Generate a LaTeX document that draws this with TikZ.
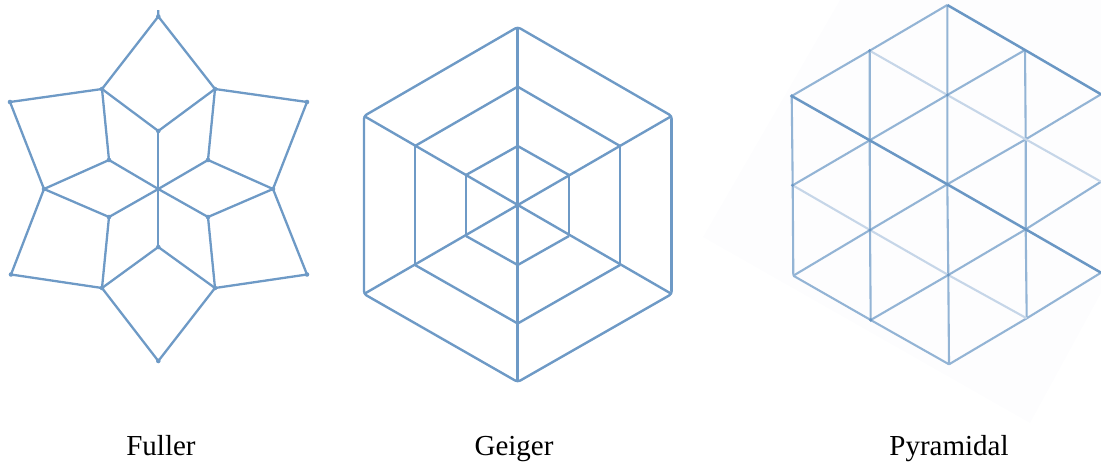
\documentclass[tikz,border=0pt]{standalone}
\usepackage{fontspec}
\setmainfont{Liberation Serif}
\definecolor{edgeblue}{HTML}{6E9AC6}
\definecolor{pyrdark}{HTML}{6A97C4}
\definecolor{pyrmid}{HTML}{93B4D5}
\definecolor{pyrlight}{HTML}{C6D6E8}
\definecolor{pyrsheet}{HTML}{FDFDFE}
\tikzset{
  fullerline/.style={edgeblue,line width=2.3*0.02cm,line join=round},
  geigerline/.style={edgeblue,line width=2.4*0.02cm,line join=round},
  geigerpost/.style={edgeblue,line width=2.8*0.02cm,line join=round},
  pyrstrong/.style={pyrdark,line width=2.5*0.02cm},
  pyrplain/.style={pyrmid,line width=2.1*0.02cm},
  pyrfaint/.style={pyrlight,line width=2.1*0.02cm},
  caption/.style={font=\fontsize{16.5pt}{18pt}\selectfont,text=black,inner sep=0pt,anchor=base}
}
\begin{document}
\begin{tikzpicture}[x=0.02cm,y=-0.02cm]
  \useasboundingbox (0,0) rectangle (1101,463);

  % Fuller
  \coordinate (fc) at (158.3,189);
  \coordinate (fstub) at (158.3,10);
  \coordinate (ftop) at (158.3,16.5); \coordinate (fbot) at (158.3,361);
  \coordinate (fa) at (102,89); \coordinate (fb) at (215,89);
  \coordinate (fd) at (102,288); \coordinate (fe) at (215,288);
  \coordinate (fin1) at (158.3,131); \coordinate (fin2) at (208,160); \coordinate (fin3) at (208,217);
  \coordinate (fin4) at (158.3,247); \coordinate (fin5) at (109,217); \coordinate (fin6) at (109,160);
  \coordinate (fl) at (44,189); \coordinate (fr) at (273,189);
  \coordinate (ful) at (10,102); \coordinate (fur) at (307,102);
  \coordinate (fll) at (11,274.5); \coordinate (flr) at (307,274.5);
  \draw[fullerline] (fstub)--(ftop)--(fb)--(fur)--(fr)--(flr)--(fe)--(fbot)--(fd)--(fll)--(fl)--(ful)--(fa)--(ftop);
  \draw[fullerline] (fa)--(fin1)--(fb); \draw[fullerline] (fb)--(fin2)--(fr);
  \draw[fullerline] (fr)--(fin3)--(fe); \draw[fullerline] (fe)--(fin4)--(fd);
  \draw[fullerline] (fd)--(fin5)--(fl); \draw[fullerline] (fl)--(fin6)--(fa);
  \draw[fullerline] (fc)--(fin1); \draw[fullerline] (fc)--(fin2); \draw[fullerline] (fc)--(fin3);
  \draw[fullerline] (fc)--(fin4); \draw[fullerline] (fc)--(fin5); \draw[fullerline] (fc)--(fin6);
  \fill[edgeblue] (ftop) circle(2.3) (fbot) circle(2.3) (fa) circle(2.3) (fb) circle(2.3)
    (fd) circle(2.3) (fe) circle(2.3) (fin1) circle(2.3) (fin2) circle(2.3) (fin3) circle(2.3)
    (fin4) circle(2.3) (fin5) circle(2.3) (fin6) circle(2.3) (fl) circle(2.3) (fr) circle(2.3)
    (ful) circle(2.3) (fur) circle(2.3) (fll) circle(2.3) (flr) circle(2.3) (fc) circle(2.3);
  \node[caption] (fullername) at (161,455) {Fuller};

  % Geiger
  \coordinate (gc) at (517.7,205);
  \coordinate (go1) at (517.7,27); \coordinate (go2) at (671.7,116); \coordinate (go3) at (671.7,294);
  \coordinate (go4) at (517.7,382); \coordinate (go5) at (364,294); \coordinate (go6) at (364,116);
  \coordinate (gm1) at (517.7,86.7); \coordinate (gm2) at (620,146); \coordinate (gm3) at (620,265);
  \coordinate (gm4) at (517.7,323.5); \coordinate (gm5) at (415,265); \coordinate (gm6) at (415,146);
  \coordinate (gi1) at (517.7,146); \coordinate (gi2) at (569,175); \coordinate (gi3) at (569,236);
  \coordinate (gi4) at (517.7,265); \coordinate (gi5) at (466,236); \coordinate (gi6) at (466,175);
  \draw[geigerline,rounded corners=3*0.02cm] (go1)--(go2)--(go3)--(go4)--(go5)--(go6)--cycle;
  \draw[geigerline] (gm6)--(gm1)--(gm2); \draw[geigerline] (gm5)--(gm4)--(gm3);
  \draw[geigerline] (gi6)--(gi1)--(gi2); \draw[geigerline] (gi5)--(gi4)--(gi3);
  \draw[geigerline] (go6)--(go3); \draw[geigerline] (go2)--(go5);
  \draw[geigerpost,shorten <=3*0.02cm,shorten >=3*0.02cm] (go6)--(go5);
  \draw[geigerpost,shorten <=3*0.02cm,shorten >=3*0.02cm] (go2)--(go3);
  \draw[geigerpost] (gm6)--(gm5); \draw[geigerpost] (gm2)--(gm3);
  \draw[geigerpost] (gi6)--(gi5); \draw[geigerpost] (gi2)--(gi3);
  \draw[geigerpost] (go1)--(go4);
  \node[caption] (geigername) at (514,455) {Geiger};

  % Pyramidal
  \fill[pyrsheet] (703,237)--(840,0)--(1101,0)--(1101,293)--(1030,423)--cycle;
  \coordinate (pa1) at (791.7,96); \coordinate (pa2) at (792.7,185.3); \coordinate (pa3) at (793.3,275.7);
  \coordinate (pb1) at (869.7,50.7); \coordinate (pb2) at (869.7,140.3); \coordinate (pb3) at (870,230); \coordinate (pb4) at (870.7,320);
  \coordinate (pc1) at (947.3,5); \coordinate (pc2) at (947.3,95); \coordinate (pc3) at (947.3,184.3); \coordinate (pc4) at (948.3,275); \coordinate (pc5) at (949,364.3);
  \coordinate (pd1) at (1025,50); \coordinate (pd2) at (1025.7,139.3); \coordinate (pd3) at (1025.7,229.3); \coordinate (pd4) at (1026.7,318.3);
  \coordinate (pe1) at (1101,94.3); \coordinate (pe2) at (1101,181.7); \coordinate (pe3) at (1101,272.7);
  \draw[pyrplain] (pa1)--(pa2)--(pa3); \draw[pyrplain] (pb1)--(pb2)--(pb3)--(pb4);
  \draw[pyrplain] (pc1)--(pc2)--(pc3)--(pc4)--(pc5); \draw[pyrplain] (pd1)--(pd2)--(pd3)--(pd4);
  \draw[pyrplain] (pa1)--(pb1)--(pc1); \draw[pyrplain] (pa2)--(pb2)--(pc2)--(pd1);
  \draw[pyrplain] (pa3)--(pb3)--(pc3)--(pd2)--(pe1); \draw[pyrplain] (pb4)--(pc4)--(pd3)--(pe2);
  \draw[pyrplain] (pc5)--(pd4)--(pe3); \draw[pyrplain] (pa3)--(pb4)--(pc5);
  \draw[pyrfaint] (pb1)--(pc2)--(pd2)--(pe2); \draw[pyrfaint] (pa2)--(pb3)--(pc4)--(pd4);
  \draw[pyrstrong] (pc1)--(pd1)--(pe1); \draw[pyrstrong] (pa1)--(pb2)--(pc3)--(pd3)--(pe3);
  \fill[pyrdark] (pa1) circle(1.8) (pa2) circle(1.8) (pb1) circle(1.8) (pb2) circle(1.8) (pb3) circle(1.8)
    (pb4) circle(1.8) (pc2) circle(1.8) (pc3) circle(1.8) (pc4) circle(1.8) (pd3) circle(1.8);
  \node[caption] (pyramidalname) at (949,455) {Pyramidal};
\end{tikzpicture}
\end{document}
